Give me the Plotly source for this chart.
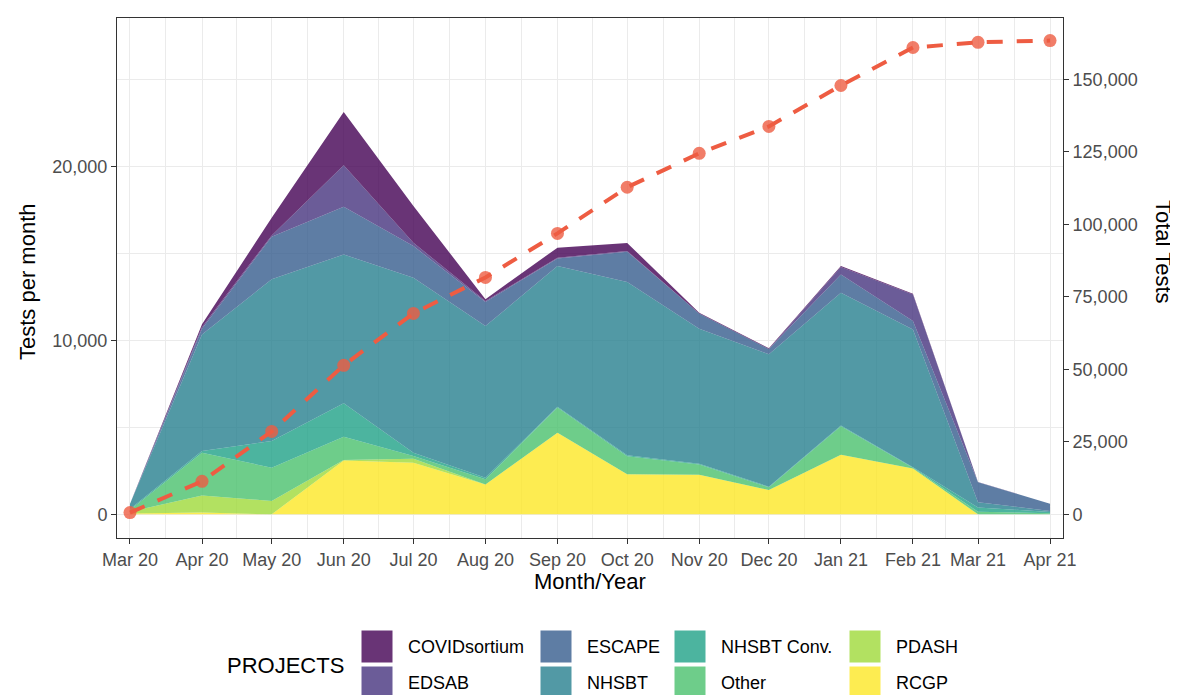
import pandas as pd
import plotly.graph_objects as go

# ---------------- data ----------------
months = ["2020-03-01", "2020-04-01", "2020-05-01", "2020-06-01", "2020-07-01",
          "2020-08-01", "2020-09-01", "2020-10-01", "2020-11-01", "2020-12-01",
          "2021-01-01", "2021-02-01", "2021-03-01", "2021-04-01"]

# monthly tests per project (stack order, bottom -> top)
rcgp         = [50, 100, 0, 3100, 2970, 1720, 4690, 2300, 2280, 1400, 3430, 2630, 0, 0]
pdash        = [100, 990, 770, 20, 230, 0, 0, 0, 0, 0, 0, 0, 0, 0]
other        = [100, 2450, 1910, 1340, 150, 290, 1450, 1040, 580, 150, 1630, 50, 150, 60]
nhsbt_conv   = [50, 100, 1530, 1920, 190, 100, 50, 50, 50, 40, 50, 20, 250, 80]
nhsbt        = [300, 6700, 9300, 8560, 10060, 8710, 8080, 9970, 7760, 7610, 7630, 7930, 300, 50]
escape       = [0, 330, 2450, 2740, 1820, 1390, 430, 1740, 870, 310, 1050, 480, 1140, 420]
edsab        = [0, 100, 70, 2380, 190, 50, 50, 40, 0, 0, 430, 1520, 20, 0]
covidsortium = [0, 150, 1020, 3060, 2110, 110, 580, 460, 50, 30, 50, 50, 0, 0]

# cumulative total tests (right axis)
total_tests = [600, 11400, 28600, 51400, 69300, 81700, 96900, 112800, 124500,
               133800, 147900, 161000, 162800, 163400]

projects = ["RCGP", "PDASH", "Other", "NHSBT Conv.", "NHSBT", "ESCAPE", "EDSAB", "COVIDsortium"]
series = [rcgp, pdash, other, nhsbt_conv, nhsbt, escape, edsab, covidsortium]
colors = {
    "COVIDsortium": (68, 1, 84),
    "EDSAB": (70, 51, 126),
    "ESCAPE": (54, 92, 141),
    "NHSBT": (39, 127, 142),
    "NHSBT Conv.": (31, 161, 135),
    "Other": (74, 193, 109),
    "PDASH": (159, 218, 58),
    "RCGP": (253, 231, 37),
}
ALPHA = 0.8


def rgba(c, a=ALPHA):
    return f"rgba({c[0]},{c[1]},{c[2]},{a})"


FONT = "Liberation Sans, Arial, Helvetica, sans-serif"
OFF = 8  # page body margin offset
PAGE_W, PAGE_H = 1178, 695
W, H = PAGE_W - OFF, PAGE_H - OFF
L, T = 117 - OFF, 18 - OFF
R = W - (1063 - OFF)
B = H - (538 - OFF)
PW, PH = W - L - R, H - T - B


def px_x(px):
    """page pixel x -> paper coordinate"""
    return (px - OFF - L) / PW


def px_y(py):
    """page pixel y -> paper coordinate"""
    return (H - B - (py - OFF)) / PH


fig = go.Figure()

for name, vals in zip(projects, series):
    fig.add_trace(go.Scatter(
        x=months, y=vals, name=name, stackgroup="one", mode="lines",
        line=dict(width=0, color=rgba(colors[name])),
        fillcolor=rgba(colors[name]), showlegend=False, hoverinfo="skip",
    ))

fig.add_trace(go.Scatter(
    x=months, y=total_tests, yaxis="y2", mode="lines+markers", name="Total",
    line=dict(color="#EE5C42", width=4, dash="16px,14px"),
    marker=dict(size=13, color="rgba(238,92,66,0.8)", line=dict(width=0)),
    showlegend=False,
))

# minor grid positions: midpoints between monthly breaks
mdates = pd.to_datetime(months)
minor_vals = [(mdates[i] + (mdates[i + 1] - mdates[i]) / 2).strftime("%Y-%m-%d %H:%M")
              for i in range(len(mdates) - 1)]

x0 = (mdates[0] - pd.Timedelta(hours=134)).strftime("%Y-%m-%d %H:%M")
x1 = (mdates[-1] + pd.Timedelta(hours=134)).strftime("%Y-%m-%d %H:%M")

grid = "#ebebeb"
axis_col = "#333333"
tick_font = dict(family=FONT, size=18, color="#4d4d4d")
title_font = dict(family=FONT, size=22, color="#000000")

fig.update_layout(
    width=W, height=H,
    margin=dict(l=L, r=R, t=T, b=B),
    paper_bgcolor="white", plot_bgcolor="white",
    font=dict(family=FONT),
    showlegend=False,
    xaxis=dict(
        type="date", range=[x0, x1],
        tickmode="array", tickvals=months, tickformat="%b %y",
        tickfont=tick_font, ticks="outside", ticklen=5, tickcolor=axis_col, tickwidth=1,
        showgrid=True, gridcolor=grid, gridwidth=1.1,
        minor=dict(tickmode="array", tickvals=minor_vals, showgrid=True,
                   gridcolor=grid, gridwidth=0.6, ticks=""),
        showline=True, linecolor=axis_col, linewidth=1, mirror=True,
        zeroline=False,
    ),
    yaxis=dict(
        range=[-1360, 28530], tickmode="array", tickvals=[0, 10000, 20000],
        tickformat=",", tickfont=tick_font,
        ticks="outside", ticklen=5, tickcolor=axis_col, tickwidth=1,
        showgrid=True, gridcolor=grid, gridwidth=1.1,
        minor=dict(tickmode="array", tickvals=[5000, 15000, 25000], showgrid=True,
                   gridcolor=grid, gridwidth=0.6, ticks=""),
        showline=True, linecolor=axis_col, linewidth=1, mirror=True,
        zeroline=False,
    ),
    yaxis2=dict(
        overlaying="y", side="right",
        range=[-8160, 171180], tickmode="array",
        tickvals=[0, 25000, 50000, 75000, 100000, 125000, 150000],
        tickformat=",", tickfont=tick_font,
        ticks="outside", ticklen=5, tickcolor=axis_col, tickwidth=1,
        showgrid=False, zeroline=False,
        showline=True, linecolor=axis_col, linewidth=1,
    ),
)

# ---------------- axis titles ----------------
fig.add_annotation(xref="paper", yref="paper", x=px_x(590), y=px_y(581),
                   text="Month/Year", showarrow=False, xanchor="center", yanchor="middle",
                   font=title_font)
fig.add_annotation(xref="paper", yref="paper", x=px_x(27), y=px_y(282),
                   text="Tests per month", showarrow=False, textangle=-90,
                   xanchor="center", yanchor="middle", font=title_font)
fig.add_annotation(xref="paper", yref="paper", x=px_x(1163), y=px_y(252),
                   text="Total Tests", showarrow=False, textangle=90,
                   xanchor="center", yanchor="middle", font=title_font)

# ---------------- legend (drawn manually, ggplot style) ----------------
legend_items = [("COVIDsortium", 0, 0), ("EDSAB", 0, 1), ("ESCAPE", 1, 0), ("NHSBT", 1, 1),
                ("NHSBT Conv.", 2, 0), ("Other", 2, 1), ("PDASH", 3, 0), ("RCGP", 3, 1)]
box_left = [361, 540, 674, 849]
row_top = [630, 666]
box_w, box_h = 32, 33

for name, col, row in legend_items:
    bx, by = box_left[col], row_top[row]
    fig.add_shape(type="rect", xref="paper", yref="paper",
                  x0=px_x(bx), x1=px_x(bx + box_w), y0=px_y(by + box_h), y1=px_y(by),
                  fillcolor=rgba(colors[name]), line=dict(color="white", width=1),
                  layer="above")
    fig.add_annotation(xref="paper", yref="paper", x=px_x(bx + box_w + 13),
                       y=px_y(by + box_h / 2), text=name, showarrow=False,
                       xanchor="left", yanchor="middle",
                       font=dict(family=FONT, size=18, color="#000000"))

fig.add_annotation(xref="paper", yref="paper", x=px_x(225), y=px_y(665),
                   text="PROJECTS", showarrow=False, xanchor="left", yanchor="middle",
                   font=dict(family=FONT, size=22, color="#000000"))

fig.write_html("out.html")
